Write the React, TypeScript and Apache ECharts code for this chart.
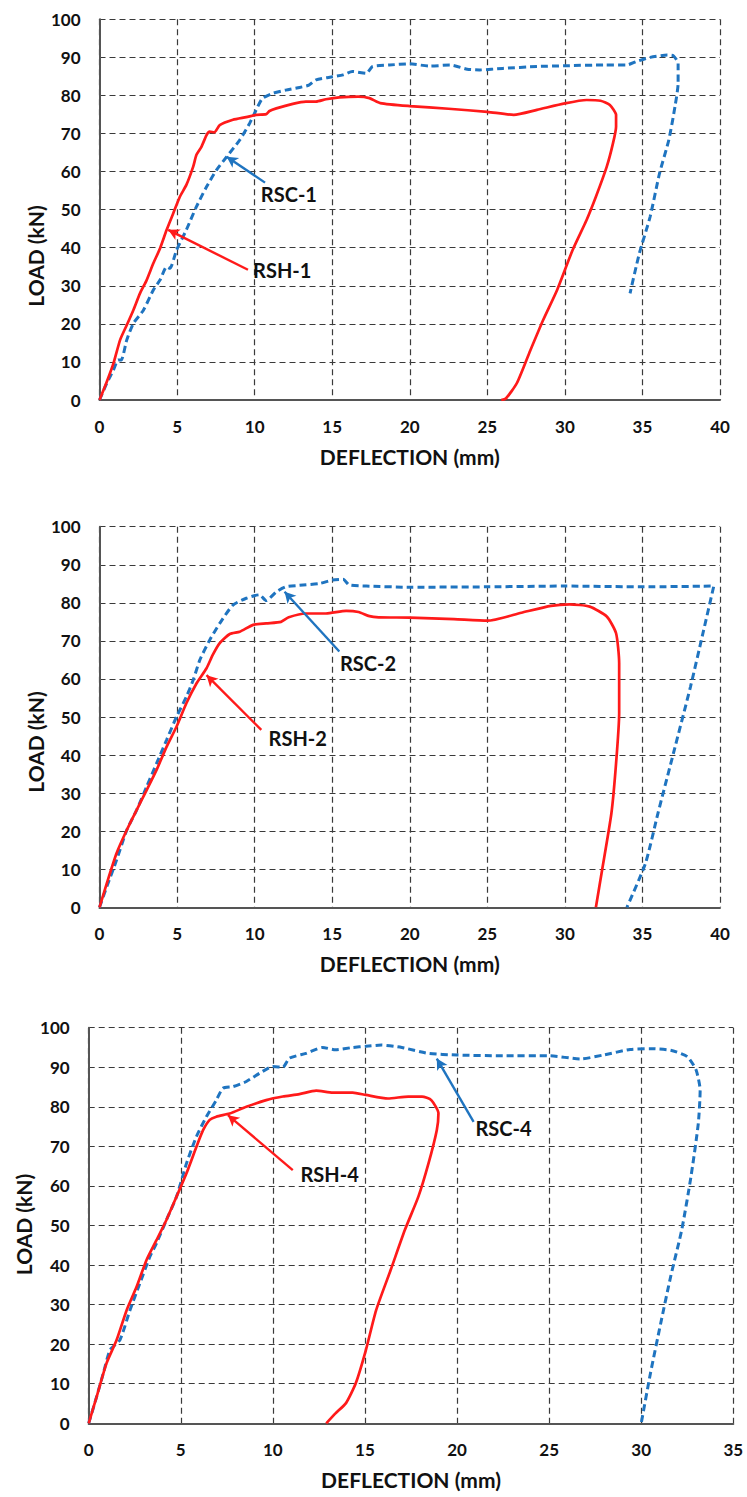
import React, { useEffect, useRef } from "react";
import * as echarts from "echarts";

// ---- Data (deflection mm, load kN) ----
const rsh1: number[][] = [
  [0, 0], [0.47, 4.8], [0.9, 9.6], [1.33, 15.8], [1.76, 19.7], [2.18, 23.6], [2.61, 28], [3.04, 31.5],
  [3.47, 35.9], [3.9, 39.8], [4.33, 44.7], [4.75, 49], [5.18, 53.4], [5.6, 56.5], [6.04, 61.3], [6.25, 64.4],
  [6.57, 66.5], [6.9, 69.6], [7.1, 70.5], [7.4, 70.3], [7.75, 72.2], [8.6, 73.6], [9.46, 74.3], [10.1, 74.9],
  [10.75, 75.1], [10.96, 75.9], [11.4, 76.6], [12.46, 77.8], [13.3, 78.4], [13.96, 78.4], [14.6, 79],
  [15.46, 79.5], [16.7, 79.7], [17.4, 79.3], [18.1, 78], [20, 77.2], [22.5, 76.5], [25, 75.7], [26.7, 74.9],
  [28.2, 76.2], [30, 77.9], [31.4, 78.8], [32.3, 78.6], [32.9, 77.5], [33.3, 74.9], [33.3, 71.8], [33.1, 67.4],
  [32.7, 61.3], [32, 53.4], [31.4, 47.3], [30.5, 39.4], [29.5, 28.9], [28.6, 21], [27.7, 12.3], [26.9, 4.4],
  [26.2, 0.4], [25.9, 0]
];
const rsc1: number[][] = [
  [0, 0], [0.47, 4.4], [0.9, 7.9], [1.2, 10.5], [1.4, 10.5], [1.76, 15.8], [2.18, 20.1], [2.83, 23.6],
  [3.47, 28.9], [3.9, 31.5], [4.33, 35], [4.54, 34.6], [4.97, 39.4], [5.6, 44.7], [6.25, 50.8], [6.9, 56],
  [7.54, 60.4], [8.2, 63.9], [9.04, 68.3], [9.68, 72.7], [10.1, 76.2], [10.5, 79.2], [11.2, 80.6], [12, 81.4],
  [12.9, 82.1], [13.5, 82.7], [13.96, 84.1], [15.03, 84.9], [15.7, 85.4], [16.3, 86.3], [17.2, 85.8],
  [17.6, 87.6], [18.7, 88], [20, 88.3], [21.3, 87.7], [22.6, 88], [23.7, 86.9], [24.5, 86.7], [26, 87.1],
  [28.2, 87.6], [30, 87.8], [32.5, 88], [34, 88], [34.6, 88.9], [35.5, 90], [36.6, 90.6], [37, 90.4],
  [37.3, 88.4], [37.3, 83.2], [37.1, 77.1], [36.7, 68.3], [36.1, 59.5], [35.5, 48.2], [34.8, 38.5], [34.2, 28]
];
const rsh2: number[][] = [
  [0, 0], [0.47, 6.3], [1.1, 14.2], [1.76, 20.3], [2.4, 25.6], [3.04, 30.8], [3.68, 36.1], [4.33, 42.2],
  [4.97, 47.5], [5.6, 53.6], [6.25, 58.8], [6.9, 62.8], [7.3, 66.3], [7.75, 69.4], [8.4, 71.8], [9.04, 72.4],
  [9.9, 74.2], [10.75, 74.6], [11.7, 75], [12.2, 76.2], [13.3, 77.2], [14.6, 77.2], [15.9, 77.9], [16.7, 77.6],
  [17.4, 76.5], [18, 76.2], [20, 76.1], [22.85, 75.7], [25, 75.3], [27.2, 77.4], [29.1, 79.2], [30.3, 79.6],
  [31.6, 79], [32.7, 76.4], [33.3, 72], [33.5, 64.1], [33.5, 51], [33.3, 37.8], [33, 24.7], [32.4, 9.8], [32, 0]
];
const rsc2: number[][] = [
  [0, 0], [0.47, 5.4], [1.1, 12.4], [1.76, 20.3], [2.4, 25.6], [3.04, 31.7], [3.68, 37.8], [4.33, 44],
  [4.97, 50.1], [5.6, 55.3], [6.04, 59.7], [6.47, 65], [7.1, 70.2], [7.75, 74.6], [8.6, 79.4], [9.46, 81.2],
  [10.3, 82.1], [10.75, 80.6], [11.4, 82.9], [12, 84.2], [12.9, 84.6], [14.2, 85.1], [15.03, 86], [15.7, 86.2],
  [16.1, 84.7], [17.2, 84.4], [20, 84.1], [25, 84.2], [30, 84.4], [35, 84.2], [39.6, 84.4], [38.9, 72],
  [38.1, 58], [37, 40.5], [36, 24.7], [35.2, 11.6], [34, 0]
];
const rsh4: number[][] = [
  [0, 0], [0.43, 6.7], [0.97, 15.2], [1.52, 21.1], [2.06, 28.6], [2.6, 34.5], [3.14, 41.3], [3.68, 46.3],
  [4.22, 51.4], [4.77, 57.3], [5.31, 63.2], [5.85, 69.9], [6.21, 74.1], [6.57, 76.7], [6.93, 77.5], [7.65, 78.3],
  [8.56, 80], [9.64, 81.7], [10.54, 82.6], [11.44, 83.2], [12.35, 84.1], [13.25, 83.6], [14.33, 83.6],
  [15.05, 83], [16.25, 82.1], [17.35, 82.6], [18.1, 82.6], [18.6, 81.7], [18.99, 78.4], [18.9, 74.1],
  [18.45, 65.7], [17.9, 57.3], [17.17, 48.9], [16.4, 38.8], [15.6, 28.5], [15.05, 18.5], [14.5, 10.1],
  [13.97, 5.1], [13.4, 2.5], [12.9, 0]
];
const rsc4: number[][] = [
  [0, 0], [0.43, 6.7], [0.79, 12.6], [1.16, 18.5], [1.7, 21.1], [2.24, 28.6], [2.78, 35.4], [3.32, 42.1],
  [3.68, 45.5], [4.22, 51.4], [4.77, 57.3], [5.31, 65.7], [5.85, 72.5], [6.39, 77.5], [6.93, 81.7], [7.29, 84.7],
  [7.83, 85.1], [8.56, 86.4], [9.28, 88.5], [10, 90.2], [10.54, 90], [10.9, 92.3], [11.8, 93.5], [12.7, 95],
  [13.4, 94.4], [14.33, 95], [15.05, 95.3], [15.9, 95.6], [17, 95], [18.45, 93.5], [20, 93.1], [22.5, 92.9],
  [25, 92.9], [26.7, 92.1], [27.95, 93.1], [29.4, 94.5], [30.5, 94.7], [31.6, 94.3], [32.5, 92.7],
  [32.98, 89.3], [33.2, 84.2], [33.1, 75.8], [32.7, 62.3], [32.2, 48.9], [31.6, 37.1], [31.06, 25.3],
  [30.5, 12.6], [30, 0]
];

const seriesNames = ["RSH-1", "RSC-1", "RSH-2", "RSC-2", "RSH-4", "RSC-4"];
// annotation: [labelX, labelY, arrowTailX, arrowTailY, arrowHeadX, arrowHeadY]
const annotations: number[][] = [
  [9.9, 34.2, 9.57, 34.2, 4.43, 44.7],
  [10.4, 54.0, 10.67, 57.1, 8.2, 63.9],
  [10.9, 44.4, 10.43, 46.6, 6.9, 61.0],
  [15.5, 64.3, 15.46, 67.2, 11.93, 82.9],
  [11.5, 62.9, 11.08, 64.0, 7.56, 77.9],
  [21.0, 74.6, 20.9, 76.2, 18.9, 92.2],
];

const xMax = [40, 40, 35];
const yMax = [100, 100, 100];

const RED = "#ff1a1a";
const BLUE = "#1f74c0";
const FONT = "Lato";
const TEXT = "#111111";

export default function App() {
  const ref = useRef<HTMLDivElement>(null);
  useEffect(() => {
    if (!ref.current) return;
    const chart = echarts.init(ref.current, undefined, { renderer: "svg" });
    const grids = [
      { left: 99.5, top: 19.3, width: 620.5, height: 380.7 },
      { left: 99.5, top: 526.7, width: 620.5, height: 380.6 },
      { left: 88.7, top: 1027.7, width: 644.6, height: 395.6 },
    ];
    const xAxes = [0, 1, 2].map((i) => ({
      type: "value",
      gridIndex: i,
      min: 0,
      max: xMax[i],
      interval: 5,
      name: "DEFLECTION (mm)",
      nameLocation: "middle",
      nameGap: 46,
      nameTextStyle: { fontFamily: FONT, fontWeight: "bold", fontSize: 21, color: TEXT },
      axisLine: { show: true, lineStyle: { color: "#555", width: 2 } },
      axisTick: { show: false },
      axisLabel: { margin: 18, fontFamily: FONT, fontWeight: "bold", fontSize: 17, color: TEXT },
      splitLine: { show: true, lineStyle: { color: "#3a3a3a", type: [6, 4], width: 1.2 } },
    }));
    const yAxes = [0, 1, 2].map((i) => ({
      type: "value",
      gridIndex: i,
      min: 0,
      max: yMax[i],
      interval: 10,
      axisLine: { show: true, lineStyle: { color: "#555", width: 2 } },
      axisTick: { show: false },
      axisLabel: { margin: 19, fontFamily: FONT, fontWeight: "bold", fontSize: 17, color: TEXT },
      splitLine: { show: true, lineStyle: { color: "#3a3a3a", type: [6, 4], width: 1.2 } },
    }));
    const datasets = [rsh1, rsc1, rsh2, rsc2, rsh4, rsc4];
    const series = datasets.map((d, k) => {
      const isRed = k % 2 === 0;
      const color = isRed ? RED : BLUE;
      const gi = Math.floor(k / 2);
      const a = annotations[k];
      return {
        type: "line",
        name: seriesNames[k],
        xAxisIndex: gi,
        yAxisIndex: gi,
        data: d,
        showSymbol: false,
        symbol: "none",
        smooth: 0.2,
        z: isRed ? 3 : 2,
        lineStyle: { color, width: isRed ? 2.7 : 3, type: isRed ? "solid" : [7, 4] },
        markLine: {
          silent: true,
          symbol: ["none", "arrow"],
          symbolSize: [9, 11],
          label: { show: false },
          lineStyle: { color, width: 2.4, type: "solid" },
          data: [[{ coord: [a[2], a[3]] }, { coord: [a[4], a[5]] }]],
        },
        markPoint: {
          silent: true,
          symbol: "circle",
          symbolSize: 0,
          data: [{ coord: [a[0], a[1]] }],
          label: {
            show: true,
            position: "right",
            distance: 0,
            formatter: seriesNames[k],
            fontFamily: FONT,
            fontWeight: "bold",
            fontSize: 20,
            color: TEXT,
          },
        },
      };
    });
    const yTitlePos = [
      [35, 256],
      [35, 742],
      [23, 1224.5],
    ];
    const graphic = yTitlePos.map((p) => ({
      type: "text",
      x: p[0],
      y: p[1],
      rotation: Math.PI / 2,
      style: {
        text: "LOAD (kN)",
        align: "center",
        verticalAlign: "middle",
        fontFamily: FONT,
        fontWeight: "bold",
        fontSize: 21,
        fill: TEXT,
      },
    }));
    chart.setOption({
      animation: false,
      backgroundColor: "#ffffff",
      grid: grids,
      xAxis: xAxes,
      yAxis: yAxes,
      series,
      graphic,
    } as any);
    return () => chart.dispose();
  }, []);
  return (
    <div
      ref={ref}
      style={{ position: "absolute", left: 0, top: 0, width: 747, height: 1497 }}
    />
  );
}
